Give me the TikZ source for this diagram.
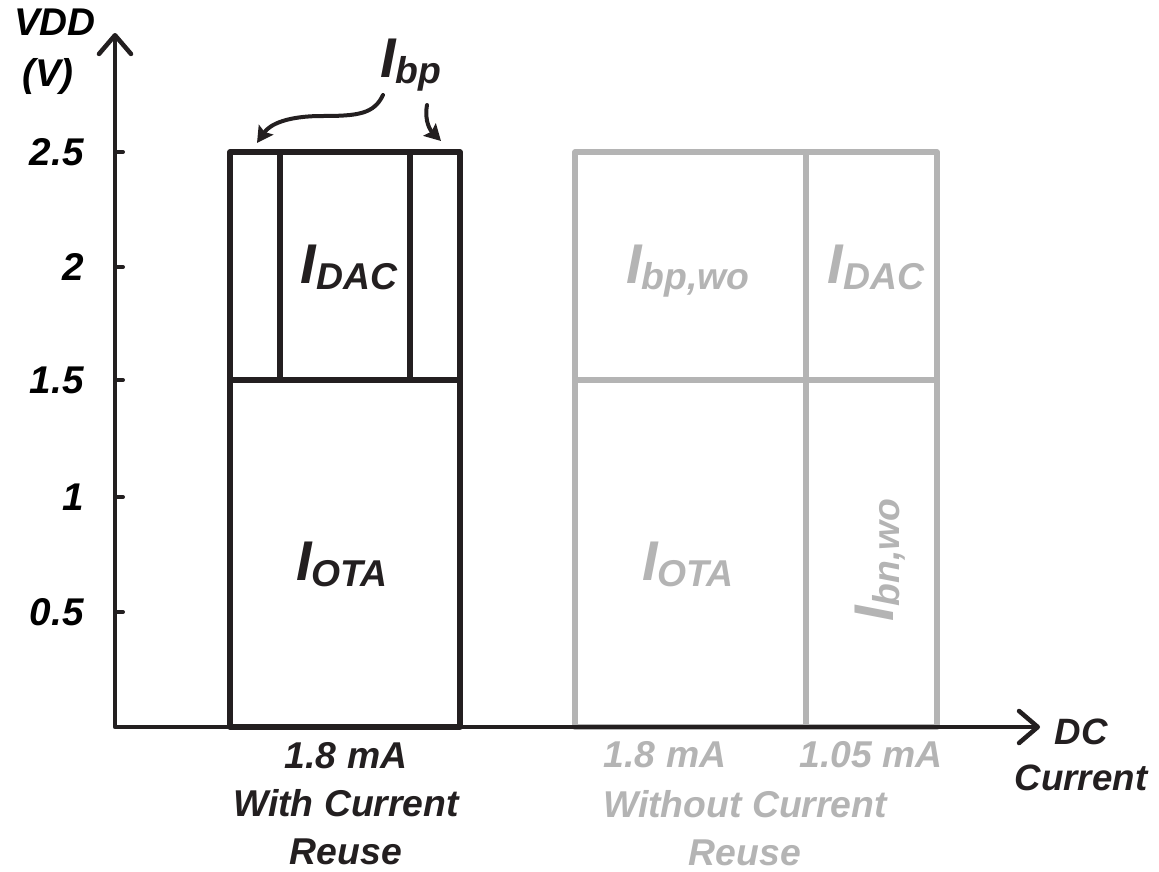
\documentclass[tikz,border=0pt]{standalone}
\usepackage{fontspec}
\setmainfont{Liberation Sans}
\usetikzlibrary{arrows.meta}
\definecolor{ink}{RGB}{35,31,32}
\definecolor{soft}{RGB}{180,180,180}
% current label: large I with a lowered subscript
\newcommand\curlbl[1]{{\fontsize{42}{42}\selectfont I}\raisebox{-5pt}{\fontsize{28}{28}\selectfont #1}}
\tikzset{
  lbl/.style={inner sep=0pt, font=\bfseries\itshape\fontsize{29}{36}\selectfont},
  botlbl/.style={inner sep=0pt, align=center, font=\bfseries\itshape\fontsize{28}{36}\selectfont},
  curtxt/.style={inner sep=0pt, anchor=base, font=\bfseries\itshape},
  blk/.style={draw=ink, line width=3.8pt, line join=round, line cap=round},
  gry/.style={draw=soft, line width=4.3pt, line join=round},
  axis/.style={draw=ink, line width=3.4pt, line join=round,
    {Straight Barb[length=14pt,width=24pt,line width=3.4pt,line cap=round,line join=round]}-{Straight Barb[length=14pt,width=24pt,line width=3.4pt,line cap=round,line join=round]}},
  pointer/.style={draw=ink, line width=3pt, line cap=round,
    -{Stealth[length=12pt,width=13pt,inset=2pt]}}
}
\begin{document}
\begin{tikzpicture}[x=0.75pt,y=-0.75pt]
\useasboundingbox (0,0) rectangle (1159,871);

% without current reuse (grey bars)
\draw[gry] (575,152) rectangle (937,727);
\draw[gry] (806,152) -- (806,727);
\draw[gry] (575,380) -- (937,380);

% with current reuse (black bar)
\draw[blk] (230,152) rectangle (460,727);
\draw[blk] (230,380) -- (460,380);
\draw[blk] (280,152) -- (280,380);
\draw[blk] (410,152) -- (410,380);

% axes
\coordinate (ytop) at (115,33);
\coordinate (orig) at (115,727);
\coordinate (xend) at (1040,727);
\draw[axis] (ytop) -- (orig) -- (xend);

% ticks and tick labels
\foreach \v/\t in {152/2.5, 267/2, 380/1.5, 497/1, 612/0.5}{
  \draw[draw=ink, line width=3pt, line cap=round] (115,\v) -- (123,\v);
  \node[lbl, anchor=east] at (84,\v) {\t};
}

% axis titles
\node[lbl] (vdd) at (55,22) {VDD};
\node[lbl] (volt) at (48,76) {(V)};
\node[botlbl, text=ink, font=\bfseries\itshape\fontsize{27.5}{35}\selectfont] (dcc) at (1081,755) {DC\\Current};

% labels inside the bars
\node[curtxt, text=ink] (idac) at (349,283) {\curlbl{DAC}};
\node[curtxt, text=ink] (iota) at (342,580) {\curlbl{OTA}};
\node[curtxt, text=soft] (ibpwo) at (688,283) {\curlbl{bp,wo}};
\node[curtxt, text=soft] (idacwo) at (876,283) {\curlbl{DAC}};
\node[curtxt, text=soft] (iotawo) at (688,580) {\curlbl{OTA}};
\node[curtxt, text=soft, rotate=90] (ibnwo) at (893,560) {\curlbl{bn,wo}};

% bias current pointer
\node[curtxt, text=ink] (ibp) at (411,77) {\curlbl{bp}};
\coordinate (bpa) at (383,95);
\coordinate (bpb) at (427,105);
\coordinate (bpl) at (257,143);
\coordinate (bpr) at (441,141);
\draw[pointer] (bpa) .. controls (374,114) and (358,116) .. (322,116)
  .. controls (288,116) and (270,124) .. (bpl);
\draw[pointer] (bpb) .. controls (424,122) and (431,131) .. (bpr);

% bottom labels
\node[botlbl, text=ink] (with) at (346,804) {1.8 mA\\With Current\\Reuse};
\node[botlbl, text=soft] (cwo) at (665,755) {1.8 mA};
\node[botlbl, text=soft] (cdac) at (871,755) {1.05 mA};
\node[botlbl, text=soft] (without) at (745,828) {Without Current\\Reuse};
\end{tikzpicture}
\end{document}
